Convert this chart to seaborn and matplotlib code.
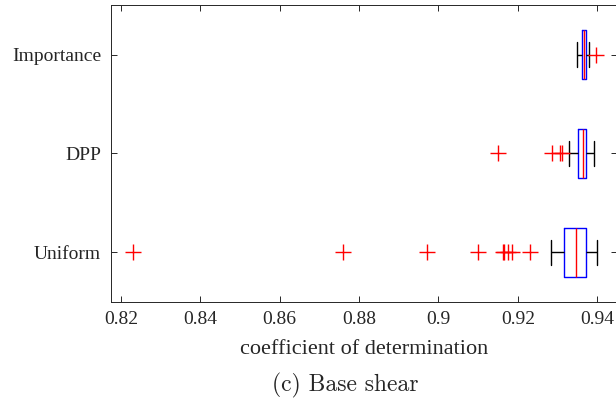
import numpy as np
import pandas as pd
import matplotlib
matplotlib.use("Agg")
import matplotlib.pyplot as plt
import seaborn as sns

# ---- data ----
methods = ["Importance", "DPP", "Uniform"]
whisker_low = [0.9348, 0.9329, 0.9283]
q1 = [0.9361, 0.9351, 0.9317]
median = [0.9367, 0.9364, 0.9346]
q3 = [0.9373, 0.9372, 0.9372]
whisker_high = [0.9380, 0.9392, 0.9399]
outliers = [
    [0.9397],
    [0.9151, 0.9285, 0.9306, 0.9312],
    [0.8231, 0.8760, 0.8970, 0.9100, 0.9162, 0.9165, 0.9176, 0.9185, 0.9230],
]
x_ticks = [0.82, 0.84, 0.86, 0.88, 0.90, 0.92, 0.94]
x_tick_labels = ["0.82", "0.84", "0.86", "0.88", "0.9", "0.92", "0.94"]
x_label = "coefficient of determination"
caption = "(c) Base shear"

# rebuild a sample per method consistent with the read box statistics
rows = []
for i, m in enumerate(methods):
    vals = (outliers[i] + [whisker_low[i]] + [q1[i]] * 20 + [median[i]] * 20
            + [q3[i]] * 20 + [whisker_high[i]])
    rows += [(m, v) for v in vals]
df = pd.DataFrame(rows, columns=["method", "r2"])

sns.set_style("ticks")
plt.rcParams["font.family"] = ["Liberation Serif", "DejaVu Serif"]

fig = plt.figure(figsize=(6.16, 3.98), dpi=100)
ax = fig.add_axes([0.1797, 0.242, 0.822, 0.7447])

sns.boxplot(
    data=df, x="r2", y="method", order=methods, orient="y", ax=ax,
    fill=False, width=0.5, whis=1.5, linewidth=1.0,
    boxprops=dict(color="blue", linewidth=1.0),
    medianprops=dict(color="red", linewidth=1.0),
    whiskerprops=dict(color="black", linewidth=1.0, linestyle="-"),
    capprops=dict(color="black", linewidth=1.0),
    flierprops=dict(marker="+", markeredgecolor="red", markerfacecolor="red",
                    markersize=11, markeredgewidth=1.0, linestyle="none"),
)

ax.set_xlim(0.8174, 0.945)
ax.set_ylim(2.5, -0.5)
ax.set_xticks(x_ticks)
ax.set_xticklabels(x_tick_labels)
ax.set_xlabel(x_label, fontsize=16, labelpad=8, color="#262626")
ax.set_ylabel("")
ax.tick_params(axis="both", which="both", direction="in", top=True, right=True,
               length=4, width=0.7, color="#262626", labelsize=14, labelcolor="#262626")
ax.tick_params(axis="x", pad=7)
ax.tick_params(axis="y", pad=7)
for s in ax.spines.values():
    s.set_visible(True)
    s.set_color("#262626")
    s.set_linewidth(0.7)

fig.text(272 / 616, 7 / 398, caption, family="cmr10", fontsize=17,
         ha="left", va="baseline", color="#262626")

fig.savefig("out.png", dpi=100)
